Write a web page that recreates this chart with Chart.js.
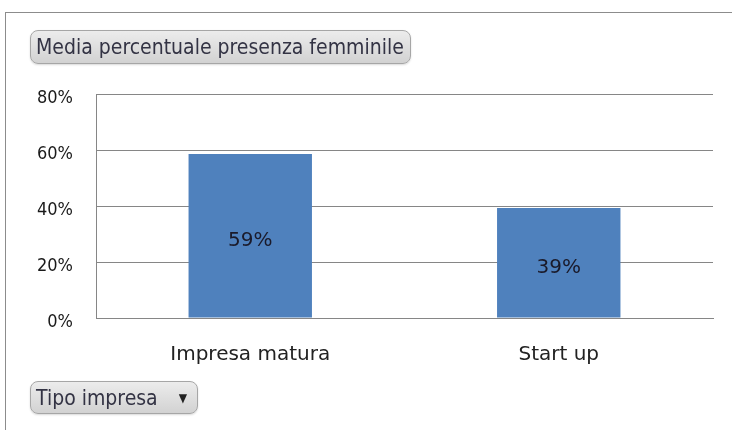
<!DOCTYPE html>
<html><head><meta charset="utf-8">
<script src="https://cdn.jsdelivr.net/npm/chart.js@4/dist/chart.umd.min.js"></script>
<style>
html,body{margin:0;padding:0;background:#fff;}
#wrap{position:relative;width:732px;height:430px;overflow:hidden;}
#frame{position:absolute;left:5px;top:12px;width:740px;height:430px;border-left:1px solid #8c8c8c;border-top:1px solid #8c8c8c;}
canvas{position:absolute;left:0;top:0;}
.btn{position:absolute;box-sizing:border-box;border:1px solid #a6a6a6;border-radius:8px;
 background:linear-gradient(#ececec,#d2d2d2);color:#333344;font-family:"DejaVu Sans Condensed","DejaVu Sans",sans-serif;font-size:21px;
 line-height:32px;padding-left:5px;white-space:nowrap;box-shadow:0 1px 2px rgba(0,0,0,0.15);}
#t1{left:30px;top:30px;width:381px;height:34px;}
#t2{left:30px;top:381px;width:168px;height:33px;}
#t2 .arr{position:absolute;right:10px;top:0;font-size:12px;color:#222;}
</style></head>
<body><div id="wrap"><div id="frame"></div><canvas id="c" width="732" height="430"></canvas>
<div class="btn" id="t1">Media percentuale presenza femminile</div>
<div class="btn" id="t2">Tipo impresa<span class="arr">▼</span></div>
</div>
<script>
const categories = ["Impresa matura", "Start up"];
const values = [0.586, 0.393];
const tickValues = [0, 0.2, 0.4, 0.6, 0.8];

const barLabels = {
  id: 'barLabels',
  afterDatasetsDraw(chart) {
    const ctx = chart.ctx;
    const meta = chart.getDatasetMeta(0);
    ctx.save();
    ctx.font = '20px "DejaVu Sans", sans-serif';
    ctx.fillStyle = '#1a1a2a';
    ctx.textAlign = 'center';
    ctx.textBaseline = 'middle';
    meta.data.forEach((bar, i) => {
      const y = (bar.y + bar.base) / 2 + 5;
      ctx.fillText(Math.round(values[i] * 100) + '%', bar.x, y);
    });
    ctx.restore();
  }
};

new Chart(document.getElementById('c'), {
  type: 'bar',
  data: { labels: categories, datasets: [{ data: values, backgroundColor: '#4f81bd', borderWidth: 0, categoryPercentage: 1, barPercentage: 0.40 }] },
  options: {
    responsive: false, animation: false,
    layout: { padding: { left: 0, top: 94, right: 19, bottom: 0 } },
    plugins: { legend: { display: false }, tooltip: { enabled: false } },
    scales: {
      x: {
        grid: { display: false, drawTicks: false },
        border: { display: true, color: '#868686', width: 1 },
        ticks: { color: '#222', padding: 25, font: { family: '"DejaVu Sans", sans-serif', size: 20 } },
        afterFit(s) { s.height = 430 - 318; }
      },
      y: {
        min: 0, max: 0.8,
        afterBuildTicks(s) { s.ticks = tickValues.map(v => ({ value: v })); },
        grid: { color: '#868686', lineWidth: 1, drawTicks: false },
        border: { display: true, color: '#868686', width: 1 },
        ticks: { color: '#1a1a1a', padding: 23, labelOffset: 4, font: { family: '"DejaVu Sans Condensed", "DejaVu Sans", sans-serif', size: 18 },
          callback: v => Math.round(v * 100) + '%' },
        afterFit(s) { s.width = 96; }
      }
    }
  },
  plugins: [barLabels]
});
</script></body></html>
